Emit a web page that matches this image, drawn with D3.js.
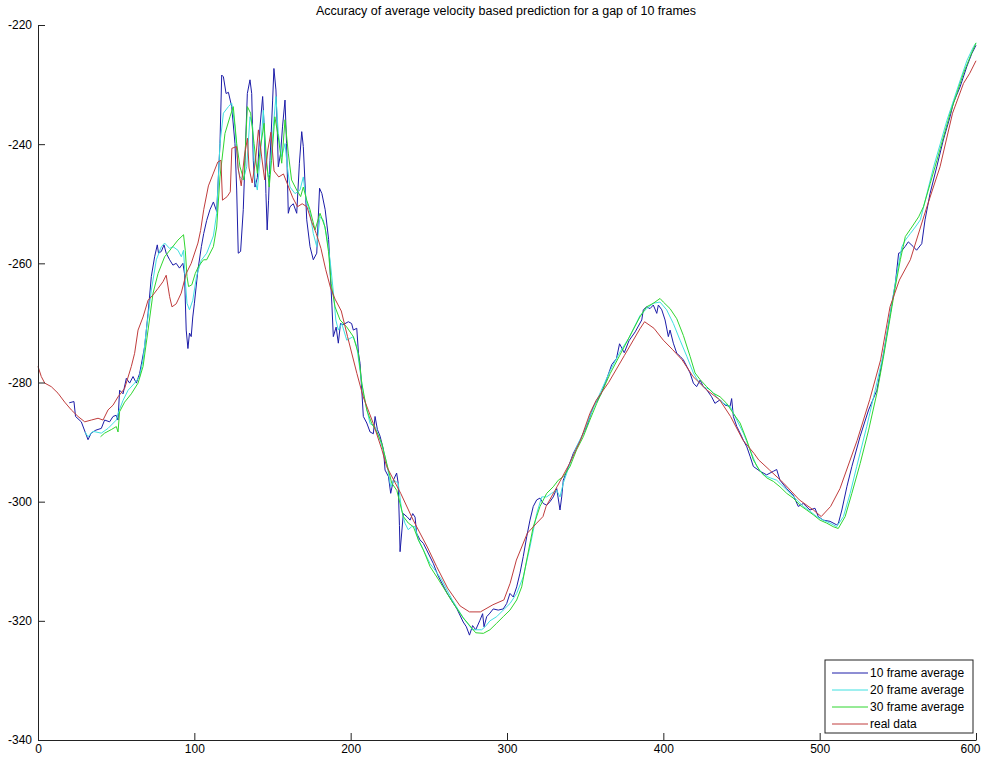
<!DOCTYPE html>
<html>
<head>
<meta charset="utf-8">
<script src="https://cdn.jsdelivr.net/npm/d3@7"></script>
<style>
  html, body { margin: 0; padding: 0; background: #ffffff; }
  svg { display: block; }
  text { font-family: "Liberation Sans", Arial, Helvetica, sans-serif; fill: #000; }
</style>
</head>
<body>
<svg id="chart" width="985" height="760"></svg>
<script>
const chartTitle = "Accuracy of average velocity based prediction for a gap of 10 frames";
const seriesNames = ["10 frame average", "20 frame average", "30 frame average", "real data"];
const seriesColors = ["#1c1ca8", "#3fe0e0", "#2fd62f", "#c03c3c"];
const xTicks = [0, 100, 200, 300, 400, 500, 600];
const yTicks = [-340, -320, -300, -280, -260, -240, -220];

// [frame, position]
const avg10 = [[20,-283.4],[23,-283.2],[24,-285.7],[27.7,-286.6],[32,-289.6],[34,-288.5],[37,-288],[40.5,-287.7],[42.6,-286.3],[45.8,-286.6],[48,-285.7],[50,-285.5],[51.2,-286.3],[52.2,-281.3],[54.4,-281.9],[56.5,-279.3],[58.6,-280.1],[60.8,-279],[62.9,-280.1],[65,-278.5],[68.2,-274],[70.4,-268.4],[72.5,-262.2],[74.6,-258.9],[76.3,-256.9],[77.1,-258.3],[78.9,-258],[80.6,-256.9],[82,-258.3],[84.2,-259.4],[86.3,-260.3],[88.4,-260],[90.5,-260.8],[92.7,-260],[93.7,-261.7],[94.8,-271.2],[95.9,-274.3],[96.9,-271.7],[98,-272.3],[99,-269],[100,-266.8],[102.3,-261.1],[104.5,-257.2],[106,-255],[107.9,-252.8],[110,-251],[112.2,-249.7],[114.3,-251.3],[116.4,-239.9],[117.5,-228.4],[118.6,-228.7],[120.3,-231.5],[121.8,-231.3],[123.9,-233.7],[126,-239.9],[127.1,-247.7],[128.1,-258.3],[129.6,-258],[131.3,-251],[132.4,-242.7],[133.9,-231.5],[135.6,-229.2],[136.7,-231.5],[137.7,-242.7],[138.8,-247.2],[140.3,-245.6],[142,-237.1],[143.7,-232],[144.7,-237.1],[145.8,-248.3],[146.6,-254.4],[147.5,-249.4],[148.4,-242.7],[150.1,-232.6],[150.9,-227.3],[152.2,-230.9],[153,-237.1],[153.7,-243.8],[155.2,-241.5],[156.4,-237.1],[158,-232.6],[159,-239.9],[160.1,-251.6],[161.2,-250.5],[163.3,-250],[165.5,-251.6],[167.2,-243.2],[168.7,-237.9],[169.7,-240.4],[171.9,-252.7],[174,-257.2],[176.1,-259.4],[178.3,-258.3],[180.1,-247.4],[181.6,-248.3],[183.7,-251],[185.9,-256],[187,-262],[188,-267],[188.9,-272.3],[190.7,-270.7],[192.1,-273.4],[193.5,-270.1],[195.2,-270.3],[198.5,-269.8],[200.6,-270.1],[201.7,-271.2],[203.9,-270.9],[205,-275.1],[206,-276.8],[207.1,-281.3],[208.1,-285.7],[210.3,-286.8],[212.4,-288.3],[214.5,-288.6],[215.6,-285.7],[217.1,-287.9],[218.8,-289],[221,-291.3],[222,-294.7],[224.2,-295.8],[225.6,-298.6],[227.3,-296.4],[229.4,-295.2],[230.4,-296.9],[231.2,-304],[231.6,-308.4],[233.7,-302],[236.3,-302.6],[238,-303.1],[239.7,-302],[241.2,-302.6],[242.2,-305.3],[244.3,-306.4],[246.5,-307],[248.6,-308.1],[252.9,-310.4],[256,-312.5],[262,-315.5],[268,-318],[272,-320.2],[274,-321],[276,-322.4],[278,-320.8],[280,-321.5],[282.7,-319.9],[284.4,-318.8],[285.3,-321],[287,-319.3],[289.1,-318.7],[291.2,-318],[294.4,-318.2],[297.6,-318],[299.8,-317.1],[301.9,-315.4],[304,-316],[306.2,-314.3],[308.3,-312],[310.4,-309.2],[312.6,-305.9],[314.7,-303.1],[316.8,-300.8],[319,-299.7],[321.1,-299.4],[323.2,-300.3],[325.4,-300.6],[327.5,-300],[329.6,-299.2],[331.8,-297.8],[333.9,-301.4],[335,-299.2],[336,-296.4],[339.2,-294.2],[342.4,-291.9],[346.7,-289.7],[350.9,-287.4],[355.2,-284.1],[360,-282],[363,-280],[367,-277],[370,-276],[372,-273.5],[375,-275],[378,-273],[382,-271.5],[386.2,-269.5],[387.2,-267.8],[389.3,-267.3],[391.5,-267.6],[393.6,-267],[395.8,-268.4],[396.8,-267],[399,-267.8],[401.1,-269.5],[403.2,-272.3],[404.3,-271.2],[406.4,-273.4],[408.6,-275.1],[410.7,-275.6],[412.8,-276.2],[415,-277.3],[417.1,-278.4],[419.2,-280.1],[421.3,-280.7],[423.5,-279.6],[425.6,-280.7],[427.7,-281.2],[430.9,-282.4],[433,-283.5],[436.3,-282.9],[439.5,-283.8],[442.7,-284],[443.7,-282.7],[444.8,-285.7],[447,-287.4],[449.1,-288.5],[451.2,-289.7],[453.4,-290.8],[455.5,-292.4],[457.6,-294.1],[461.9,-294.9],[466.1,-295.5],[470.4,-294.9],[472.5,-294.6],[474.6,-296.4],[478.9,-297.8],[483.1,-298.9],[486.3,-300.8],[489.5,-300.3],[493.8,-301.4],[497,-301.1],[499.1,-302.5],[502.3,-303.1],[506.6,-303.3],[510.9,-303.9],[512,-303.6],[514.2,-301.4],[517.4,-297.5],[520.6,-294.1],[525.8,-289.1],[531.3,-284.6],[536.6,-281.3],[540.9,-275.1],[545.2,-268.4],[548.4,-263.4],[550.5,-258.3],[551.6,-258.2],[554.6,-257.2],[556.7,-256.4],[559.9,-257.2],[562,-257.8],[565.3,-256.7],[567.4,-252.7],[570.6,-248.3],[574.9,-243.8],[579.1,-239.3],[583.4,-235.4],[585.5,-233.1],[589.8,-230.4],[594.1,-227],[597.3,-224.8],[600,-223.4]];

const avg20 = [[30,-288.3],[32,-289.1],[35.2,-288.2],[40.5,-288.5],[44.8,-287.7],[50.1,-286.3],[51.6,-284.9],[54.4,-283],[57.6,-281.3],[61.8,-280.1],[65,-279],[67.2,-276.2],[69.3,-271.2],[72.5,-264.5],[75.7,-259.4],[78.9,-257.2],[81,-256.6],[84.2,-257.5],[86.3,-257.2],[89.5,-257.8],[91.7,-258.9],[93.1,-257.8],[94.2,-262.8],[95.3,-266.7],[96.9,-267.8],[99,-266.2],[101.4,-262.2],[104.4,-259.5],[107.9,-258.3],[112.2,-255.4],[114.3,-251.6],[116.4,-239.9],[118.6,-234.8],[121.8,-233.7],[123.9,-233.1],[126,-237.1],[128.1,-244.3],[129.2,-245.5],[131.3,-246],[133.5,-243.8],[135.6,-235.4],[137.3,-237.1],[138.8,-246],[140.3,-247.7],[142,-242.7],[144.1,-234.3],[145.8,-242.7],[147.3,-245.5],[148.4,-244.9],[150.5,-237.1],[152.2,-232],[153.7,-238.2],[155.9,-242.1],[158,-239.9],[159.5,-243.8],[161.2,-247.2],[164.4,-248.3],[167.6,-247.7],[169.7,-245.5],[171.5,-249.4],[174,-251.6],[176.1,-255],[178.3,-257.2],[180.4,-252.2],[182.5,-252.7],[184.7,-255.5],[186.8,-259.4],[189,-265],[190.5,-269.5],[192.1,-271.2],[194.3,-270.1],[197.5,-272.9],[201.7,-272.3],[203.9,-274],[206,-278],[208.1,-281.9],[212.4,-286.9],[215.6,-287.4],[218.8,-289.7],[222,-292.4],[224.2,-295.2],[225.6,-297.5],[227.7,-296.4],[230.4,-296.9],[232.6,-301.4],[234.7,-303.6],[236.8,-304.7],[239,-304.2],[241.2,-304.2],[243.3,-306.4],[246.5,-308.1],[250.8,-310.4],[254,-311.5],[258,-313],[265,-316.5],[272,-319.5],[278,-321.5],[283.8,-321.5],[286,-321],[289.1,-320],[293.4,-319.3],[297.6,-318.2],[301.9,-317.1],[306.2,-315.4],[310.4,-312.6],[314.7,-307.6],[319,-302],[322.2,-299.2],[325.4,-299.2],[328.5,-298.6],[331.8,-298.1],[333.9,-299.2],[336,-296.9],[340.3,-293.6],[344.5,-290.8],[348.8,-288.5],[353,-285.7],[357.4,-283],[360,-281.5],[366,-278],[372,-275],[378,-272.5],[385,-268.8],[389.3,-267.6],[393.6,-266.7],[397.9,-266.5],[402.1,-267.8],[406.4,-270.1],[410.7,-272.9],[415,-275.6],[419.2,-278.4],[422.4,-279.8],[425.6,-280.7],[429.9,-281.2],[434.1,-282.4],[438.4,-283.5],[442.7,-284],[447,-286.3],[451.2,-288.5],[455.5,-291.3],[459.8,-294.1],[464,-295.5],[468.3,-296],[472.5,-296.4],[476.8,-297.5],[481.1,-298.6],[485.3,-299.7],[489.5,-300.8],[493.8,-301.6],[498.1,-302.5],[502.3,-303.1],[506.6,-303.6],[510.9,-304.2],[515.2,-302.5],[519.5,-298.6],[523.7,-294.1],[530.1,-287.4],[535.5,-281.3],[540.9,-275.1],[545.2,-268.4],[549.4,-261.7],[552.6,-257.2],[554.8,-256.1],[558,-255],[561.2,-253.9],[564.4,-252.7],[568.6,-248.3],[572.9,-243.8],[577.2,-239.9],[581.4,-236],[585.7,-232.6],[590,-229.2],[594.3,-225.9],[598.5,-223.6],[600,-223]];

const avg30 = [[40,-289.1],[42.6,-288.5],[46.9,-287.9],[50.1,-287.4],[51.2,-288.3],[52.2,-284.9],[55.4,-283.3],[59.7,-281.9],[64,-280.1],[67.2,-277.3],[70.4,-271.2],[73.6,-265],[76.8,-261.7],[81,-258.9],[85.3,-257.5],[89.5,-256.1],[93.1,-255.2],[94.2,-257.8],[95.3,-262.2],[96.3,-263.9],[98.4,-263.6],[100.6,-261.7],[102.7,-260.5],[105.9,-259.4],[107.9,-259.4],[112.2,-257.2],[114.3,-253.9],[116.4,-245.5],[119.6,-238.2],[122.8,-235.4],[124.9,-233.7],[127.1,-239.9],[129.2,-243.8],[131.7,-246],[133.9,-233.7],[136,-234.8],[138.2,-239.9],[140.3,-244.9],[142.4,-240.4],[144.6,-236.5],[146.2,-242.7],[147.9,-247.2],[149.4,-242.7],[151.5,-235.4],[153.7,-238.8],[155.9,-243.2],[158,-235.9],[160.1,-241.5],[162.2,-246],[165.5,-247.7],[168,-248.8],[169.7,-247.2],[171.9,-249.4],[174,-251],[177.2,-254.4],[180.4,-251.6],[183.6,-253.9],[185.8,-258],[187.5,-263.4],[190,-267.3],[193.2,-269.5],[197.5,-270.7],[201.7,-272.3],[204.9,-275.1],[207.1,-280.1],[210.3,-284.6],[213.5,-286.9],[216.7,-288.3],[219.9,-290.2],[223.1,-293.6],[226.3,-296.9],[229.5,-298.1],[231.6,-300.3],[233.7,-302.5],[236.9,-303.6],[240.1,-304.2],[243.3,-306.4],[246.5,-308.1],[250.8,-310.9],[256,-313],[265,-316.8],[272,-319.5],[280,-322],[284.9,-322.1],[289.1,-321.5],[293.4,-320.4],[297.6,-319.3],[301.9,-318.2],[306.2,-316.5],[309.4,-314.3],[312.6,-309.8],[316.8,-304.2],[321.1,-300.8],[325.4,-298.6],[329.6,-297.5],[332.8,-296.4],[336,-295.8],[340.3,-294.1],[344.5,-291.3],[348.8,-289.1],[353,-286.3],[357.4,-283.5],[360,-282],[366,-278.5],[372,-275.5],[378,-272.5],[385,-269],[389.3,-267.3],[393.6,-266.7],[397.9,-265.9],[400,-266.5],[404.3,-267.6],[408.6,-269.3],[412.8,-272.1],[417.1,-275.6],[420.3,-278.4],[423.5,-279.5],[427.7,-280.7],[432,-281.8],[436.3,-282.4],[440.5,-283.5],[444.8,-285.2],[449.1,-286.8],[453.4,-289.7],[457.6,-293],[461.9,-294.9],[466.1,-296],[470.4,-296.6],[474.6,-297.5],[478.9,-298.6],[483.1,-299.4],[487.4,-300.6],[491.7,-301.4],[495.9,-302.2],[500.2,-303.1],[504.5,-303.6],[508.7,-304.2],[511.9,-304.5],[516.3,-302.5],[520.6,-298.6],[525.9,-293.6],[531.3,-288],[536.6,-281.8],[540.9,-275.6],[545.2,-268.9],[548.4,-263.9],[551.6,-259.4],[554.8,-255.5],[559,-253.9],[563.3,-252.2],[566.4,-250.5],[570.7,-246.6],[575,-242.7],[579.2,-238.8],[583.5,-234.8],[587.7,-231.5],[592,-228.1],[596.3,-225.3],[600,-223]];

const realData = [[0,-277.3],[2.1,-279],[4.3,-280.1],[8.5,-280.7],[12.8,-281.8],[17.1,-283.3],[21.3,-284.6],[25.6,-285.7],[29.9,-286.6],[34.1,-286.3],[38.4,-286],[41.6,-286.3],[44.8,-284.6],[48,-283.8],[51.2,-282.4],[55.4,-281],[59.7,-277.3],[61.8,-275.1],[64,-271.2],[67.2,-269],[70.4,-266.2],[73.6,-265.3],[76.8,-264.2],[79.9,-263.1],[82,-262],[84.2,-265.6],[85.7,-267.3],[88.4,-266.8],[91.6,-265],[94.8,-261.7],[98,-260],[102.3,-256.6],[104,-254.5],[106,-251],[109,-247],[112,-245],[115,-243],[117,-242.7],[118,-249.4],[121,-248.8],[123,-248],[124,-240.7],[127,-240.4],[128,-244],[130,-247],[132,-242],[134,-239],[135,-244],[137,-246.5],[139,-243],[141,-237.6],[143,-242],[145,-246],[147,-241],[149,-238],[151,-244.5],[154,-245.5],[157,-245],[160,-247],[163,-249],[166,-250.5],[169,-250],[172,-250.5],[175,-253],[178,-255],[181,-257.5],[184,-261],[187,-264],[190,-266],[194,-268],[198,-272.3],[204,-278.5],[208,-282.4],[214.5,-286.9],[220,-291.3],[223,-294.1],[232,-298.6],[240,-303.1],[249,-307.6],[255,-310.9],[262,-314.5],[270,-317.5],[276,-318.5],[283,-318.5],[291,-317.3],[298,-316.5],[302,-313.7],[306,-309.8],[313,-305.3],[319,-303.6],[323,-302.5],[325,-300.8],[332,-297.5],[340,-293.6],[347,-289.7],[353,-285.2],[357,-283],[365,-280],[375,-275.5],[385,-271],[388,-269.8],[394,-270.9],[400,-272.9],[406,-274.5],[412,-276.2],[419,-279],[428,-281.3],[436,-282.9],[443,-285.7],[451,-289.7],[458,-291.9],[461,-293],[468,-294.7],[477,-296.9],[487,-299.7],[496,-301.4],[501,-302.5],[507,-300.8],[513,-297.8],[524,-289.7],[532,-282.9],[539,-276.2],[545,-267.3],[551,-262.8],[558,-259.4],[568,-251],[577,-243.8],[585,-234.8],[592,-229.8],[596,-228.1],[600,-226]];

const allSeries = [avg10, avg20, avg30, realData];

const svg = d3.select("#chart");
const x = d3.scaleLinear().domain([0, 600]).range([38, 976]);
const y = d3.scaleLinear().domain([-340, -220]).range([740, 25]);

// title
svg.append("text")
  .attr("x", 506).attr("y", 15)
  .attr("text-anchor", "middle")
  .style("font-size", "12.5px")
  .text(chartTitle);

// lines
const line = d3.line().x(d => x(d[0])).y(d => y(d[1]));
allSeries.forEach((s, i) => {
  svg.append("path")
    .datum(s)
    .attr("fill", "none")
    .attr("stroke", seriesColors[i])
    .attr("stroke-width", 1)
    .attr("stroke-linejoin", "round")
    .attr("d", line);
});

// axes (MATLAB style: inward ticks, no box)
const fmt = d => String(d);
const xAxis = d3.axisBottom(x).tickValues(xTicks).tickSizeInner(-7).tickSizeOuter(0).tickPadding(4).tickFormat(fmt);
const yAxis = d3.axisLeft(y).tickValues(yTicks).tickSizeInner(-7).tickSizeOuter(0).tickPadding(6).tickFormat(fmt);

const gx = svg.append("g").attr("transform", "translate(0,740)").call(xAxis);
const gy = svg.append("g").attr("transform", "translate(38,0)").call(yAxis);
[gx, gy].forEach(g => {
  g.select(".domain").attr("stroke", "#222").attr("stroke-width", 1);
  g.selectAll(".tick line").attr("stroke", "#222");
  g.selectAll(".tick text").style("font-size", "12px").style("font-family", "'Liberation Sans', Arial, sans-serif").attr("fill", "#000");
});
gx.selectAll(".tick text").filter(d => d === 600).attr("dx", -6);

// legend
const lg = svg.append("g").attr("transform", "translate(825,660)");
lg.append("rect").attr("x", 0).attr("y", 0).attr("width", 148).attr("height", 73)
  .attr("fill", "#fff").attr("stroke", "#222").attr("stroke-width", 1);
seriesNames.forEach((name, i) => {
  const yy = 13 + i * 17;
  lg.append("line").attr("x1", 7).attr("x2", 43).attr("y1", yy).attr("y2", yy)
    .attr("stroke", seriesColors[i]).attr("stroke-width", 1);
  lg.append("text").attr("x", 45).attr("y", yy).attr("dy", "0.35em")
    .style("font-size", "12px").text(name);
});
</script>
</body>
</html>
